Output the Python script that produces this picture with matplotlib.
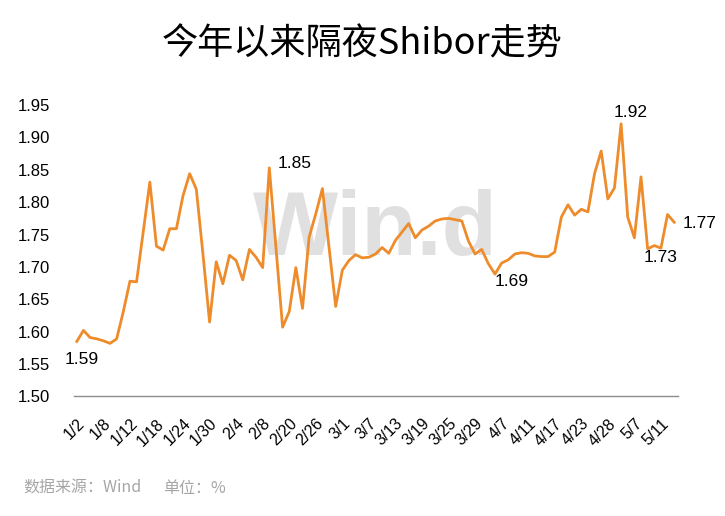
import matplotlib
matplotlib.use("Agg")
import matplotlib.pyplot as plt

plt.rcParams['font.family'] = ['Liberation Sans', 'Noto Sans CJK SC', 'DejaVu Sans']

# --- data (overnight Shibor, %) ---
dates = [
    "1/2", "1/3", "1/4", "1/5", "1/8", "1/9", "1/10", "1/11", "1/12", "1/15",
    "1/16", "1/17", "1/18", "1/19", "1/22", "1/23", "1/24", "1/25", "1/26", "1/29",
    "1/30", "1/31", "2/1", "2/2", "2/4", "2/5", "2/6", "2/7", "2/8", "2/9",
    "2/18", "2/19", "2/20", "2/21", "2/22", "2/23", "2/26", "2/27", "2/28", "2/29",
    "3/1", "3/4", "3/5", "3/6", "3/7", "3/8", "3/11", "3/12", "3/13", "3/14",
    "3/15", "3/18", "3/19", "3/20", "3/21", "3/22", "3/25", "3/26", "3/27", "3/28",
    "3/29", "4/1", "4/2", "4/3", "4/7", "4/8", "4/9", "4/10", "4/11", "4/12",
    "4/15", "4/16", "4/17", "4/18", "4/19", "4/22", "4/23", "4/24", "4/25", "4/26",
    "4/28", "4/29", "4/30", "5/6", "5/7", "5/8", "5/9", "5/10", "5/11", "5/13",
    "5/14",
]
shibor = [
    1.585, 1.602, 1.591, 1.589, 1.586, 1.582, 1.589, 1.631, 1.678, 1.677,
    1.754, 1.831, 1.732, 1.726, 1.759, 1.759, 1.810, 1.844, 1.820, 1.720,
    1.615, 1.708, 1.674, 1.718, 1.710, 1.680, 1.727, 1.715, 1.699, 1.853,
    1.730, 1.607, 1.631, 1.699, 1.636, 1.746, 1.782, 1.821, 1.730, 1.639,
    1.695, 1.710, 1.719, 1.714, 1.715, 1.720, 1.730, 1.721, 1.741, 1.754,
    1.767, 1.745, 1.757, 1.763, 1.771, 1.774, 1.775, 1.773, 1.771, 1.740,
    1.720, 1.727, 1.705, 1.689, 1.706, 1.711, 1.720, 1.722, 1.721, 1.717,
    1.716, 1.716, 1.723, 1.777, 1.796, 1.780, 1.789, 1.785, 1.844, 1.879,
    1.805, 1.822, 1.921, 1.777, 1.745, 1.839, 1.728, 1.733, 1.729, 1.781,
    1.769,
]
yticks = [1.50, 1.55, 1.60, 1.65, 1.70, 1.75, 1.80, 1.85, 1.90, 1.95]

# labelled points: (index, text, dx, dy, ha) offsets in points
callouts = [
    (0, "1.59", 3.6, -13, "center"),
    (29, "1.85", 5.8, 2.9, "left"),
    (63, "1.69", 0, -5, "left"),
    (82, "1.92", 7.2, 7.9, "center"),
    (88, "1.73", 0, -6.8, "center"),
    (90, "1.77", 5.8, -0.7, "left"),
]

LINE_COLOR = "#EE8C2C"
CJK = ["Noto Sans CJK SC", "DejaVu Sans"]

fig = plt.figure(figsize=(7.25, 5.16), dpi=100)
ax = fig.add_axes([0.1014, 0.2316, 0.8331, 0.5649])

x = list(range(len(shibor)))

# watermark
ax.text(0.517, 0.506, "Win.d", transform=fig.transFigure, ha="center", va="baseline",
        fontsize=65, fontweight="bold", color="#e0e0e0", zorder=0)

ax.plot(x, shibor, color=LINE_COLOR, lw=2.0, zorder=2, solid_joinstyle="round")

for i, txt, dx, dy, ha in callouts:
    ax.annotate(txt, (i, shibor[i]), xytext=(dx, dy), textcoords="offset points",
                ha=ha, va="center", fontsize=12.5, color="black", zorder=3)

ax.set_xlim(-0.5, len(shibor) - 0.5)
ax.set_ylim(1.50, 1.95)
ax.set_yticks(yticks)
ax.set_yticklabels([f"{v:.2f}" for v in yticks], fontsize=12)

tick_idx = list(range(0, len(dates), 4))
ax.set_xticks(tick_idx)
ax.set_xticklabels([dates[i] for i in tick_idx], fontsize=11.5, rotation=45,
                   ha="right", va="top", rotation_mode="anchor")

ax.tick_params(axis="y", length=0, pad=17)
ax.tick_params(axis="x", length=0, pad=14)

for s in ["top", "right", "left"]:
    ax.spines[s].set_visible(False)
ax.spines["bottom"].set_color("#8c8c8c")
ax.spines["bottom"].set_linewidth(1.0)

fig.text(0.5, 0.913, "今年以来隔夜Shibor走势", ha="center", va="center",
         fontsize=26, family=CJK, fontweight="light", color="black")

fig.text(23 / 725, 1 - 488 / 516, "数据来源：Wind", ha="left", va="center",
         fontsize=11.5, family=CJK, color="#a6a6a6")
fig.text(163 / 725, 1 - 488 / 516, "单位：%", ha="left", va="center",
         fontsize=11.5, family=CJK, color="#a6a6a6")

fig.savefig("out.png", dpi=100, facecolor="white")
